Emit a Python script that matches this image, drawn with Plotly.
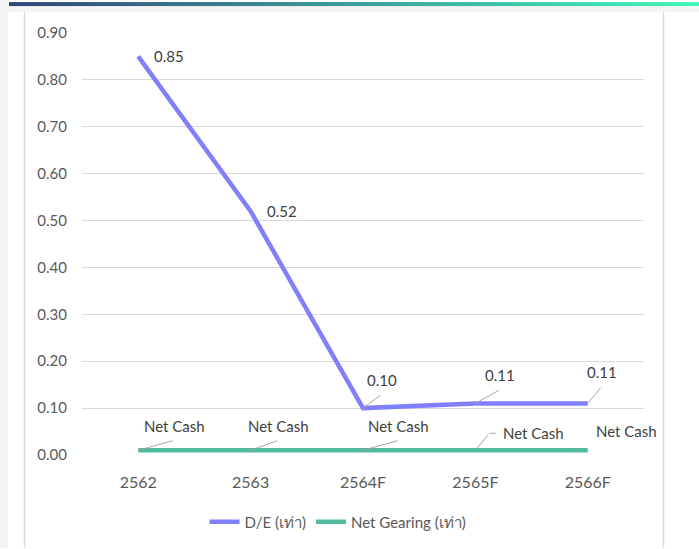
import plotly.graph_objects as go

# ---- data ----
years = ["2562", "2563", "2564F", "2565F", "2566F"]
de_ratio = [0.85, 0.52, 0.10, 0.11, 0.11]
net_gearing = [0.01, 0.01, 0.01, 0.01, 0.01]
net_gearing_text = ["Net Cash", "Net Cash", "Net Cash", "Net Cash", "Net Cash"]
y_ticks = [0.0, 0.1, 0.2, 0.3, 0.4, 0.5, 0.6, 0.7, 0.8, 0.9]

W, H = 699, 549
ML, MR, MT, MB = 82, 55, 33, 93
PW, PH = W - ML - MR, H - MT - MB

FONT = "Lato, Open Sans, sans-serif"
TXT = "#595959"
LEAD = "#a6a6a6"
DE_COLOR = "#8080ff"
NG_COLOR = "#4fba9c"


def px_x(px):
    return (px - ML) / PW


def px_y(py):
    return (H - MB - py) / PH


fig = go.Figure()
fig.add_trace(go.Scatter(
    x=years, y=de_ratio, mode="lines", name="D/E (เท่า)",
    line=dict(color=DE_COLOR, width=4.5),
))
fig.add_trace(go.Scatter(
    x=years, y=net_gearing, mode="lines", name="Net Gearing (เท่า)",
    line=dict(color=NG_COLOR, width=4.5),
))

ann = []
lab_font = dict(family=FONT, size=15, color="#404040")

# annotations on a category axis are placed by category index
# D/E labels: first two sit beside the point, the rest use leader lines
side = {0: 14, 1: 14}
lead_de = {2: (19, 28, 19, -14), 3: (25, 28, 25, -14), 4: (14, 31, 14, -17)}
for i, v in enumerate(de_ratio):
    if i in side:
        ann.append(dict(x=i, y=v, xref="x", yref="y", text=f"{v:.2f}",
                        showarrow=False, xanchor="left", yanchor="middle",
                        xshift=side[i], font=lab_font))
    else:
        tx, ty, ax, ay = lead_de[i]
        ann.append(dict(x=i, y=v, xref="x", yref="y", text=f"{v:.2f}",
                        showarrow=False, xanchor="center", yanchor="middle",
                        xshift=tx, yshift=ty, font=lab_font))
        ann.append(dict(x=i, y=v, xref="x", yref="y", text="",
                        showarrow=True, arrowhead=0, arrowwidth=1,
                        arrowcolor=LEAD, ax=ax, ay=ay, standoff=0))

# Net gearing labels
ng_pos = [(36, 24, 36, -10), (28, 24, 28, -10), (35, 24, 36, -10),
          (58, 17, 14, -17), (39, 19, None, None)]
for i, (v, t) in enumerate(zip(net_gearing, net_gearing_text)):
    tx, ty, ax, ay = ng_pos[i]
    ann.append(dict(x=i, y=v, xref="x", yref="y", text=t,
                    showarrow=False, xanchor="center", yanchor="middle",
                    xshift=tx, yshift=ty, font=lab_font))
    if ax is not None:
        ann.append(dict(x=i, y=v, xref="x", yref="y", text="",
                        showarrow=True, arrowhead=0, arrowwidth=1,
                        arrowcolor=LEAD, ax=ax, ay=ay, standoff=0))
    if i == 3:
        ann.append(dict(x=i, y=v, xref="x", yref="y", text="",
                        showarrow=True, arrowhead=0, arrowwidth=1,
                        arrowcolor=LEAD, ax=8, ay=0, standoff=0,
                        xshift=14, yshift=17))

# Frame decorations: grey margins, gradient header bar, side rules
shapes = []
shapes.append(dict(type="rect", xref="paper", yref="paper",
                   x0=px_x(0), x1=px_x(8), y0=px_y(H), y1=px_y(0),
                   fillcolor="#f4f4f4", line=dict(width=0), layer="below"))
shapes.append(dict(type="rect", xref="paper", yref="paper",
                   x0=px_x(8), x1=px_x(W), y0=px_y(12), y1=px_y(6),
                   fillcolor="#f4f4f4", line=dict(width=0), layer="below"))
c0 = (50, 70, 122)
c1 = (64, 246, 186)
n = 70
x_start, x_end = 9, W
for k in range(n):
    t = k / (n - 1)
    col = tuple(round(c0[j] + (c1[j] - c0[j]) * t) for j in range(3))
    a = x_start + (x_end - x_start) * k / n
    b = x_start + (x_end - x_start) * (k + 1) / n + 0.6
    shapes.append(dict(type="rect", xref="paper", yref="paper",
                       x0=px_x(a), x1=px_x(b), y0=px_y(6), y1=px_y(2),
                       fillcolor="rgb(%d,%d,%d)" % col, line=dict(width=0),
                       layer="below"))
for vx in (24.5, 663.5):
    shapes.append(dict(type="line", xref="paper", yref="paper",
                       x0=px_x(vx), x1=px_x(vx), y0=px_y(H), y1=px_y(12),
                       line=dict(color="#d9d9d9", width=1.5), layer="below"))

fig.update_layout(
    width=W, height=H,
    margin=dict(l=ML, r=MR, t=MT, b=MB),
    paper_bgcolor="white", plot_bgcolor="white",
    font=dict(family=FONT, size=15, color=TXT),
    showlegend=True,
    legend=dict(orientation="h", x=px_x(338), xanchor="center",
                y=px_y(522), yanchor="middle", font=dict(size=15, color=TXT),
                itemwidth=30, bgcolor="rgba(0,0,0,0)"),
    annotations=ann,
    shapes=shapes,
)
fig.update_xaxes(type="category", range=[-0.5, 4.5], showgrid=False,
                 showline=False, zeroline=False, ticks="",
                 ticklabelstandoff=16, tickfont=dict(size=16, color=TXT))
fig.update_yaxes(range=[0, 0.9], tickvals=y_ticks, tickformat=".2f",
                 showgrid=True, gridcolor="#d9d9d9", gridwidth=1,
                 zeroline=False, showline=False, ticks="",
                 ticklabelstandoff=14, tickfont=dict(size=15, color=TXT))

fig.write_html("out.html")
